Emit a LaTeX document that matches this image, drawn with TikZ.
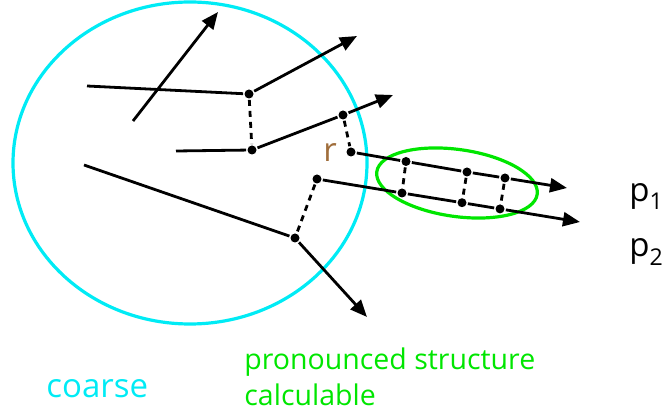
\documentclass[tikz,border=0pt]{standalone}
\usepackage{amsmath}
\usepackage{fontspec}
\setmainfont{Open Sans}
\usepackage{tikz}
\usetikzlibrary{arrows.meta,positioning}
\definecolor{coarsecyan}{RGB}{0,235,245}
\definecolor{structgreen}{RGB}{0,230,0}
\definecolor{rbrown}{RGB}{160,110,60}

\begin{document}
\begin{tikzpicture}[x=1pt,y=-1pt,
		line width=2.8pt,
		>={Triangle[length=17pt,width=14pt]},
		dotnode/.style={circle,fill=black,inner sep=0pt,minimum size=9pt},
		endnode/.style={coordinate},
		dashline/.style={dash pattern=on 6pt off 5pt},
		biglabel/.style={inner sep=0pt,anchor=base west,font=\fontsize{33}{36}\selectfont},
		smalllabel/.style={inner sep=0pt,anchor=base west,font=\fontsize{28.5}{34}\selectfont}]
		
		\useasboundingbox (0,0) rectangle (662,419);
		
		% the two regions
		\draw[coarsecyan,line width=3.2pt] (190,163) ellipse (177 and 161);
		\draw[structgreen,line width=3.2pt,rotate around={-8:(457,183)}] (457,183) ellipse (81 and 33.5);
		
		% free ends
		\node[endnode] (a0) at (133,121) {};
		\node[endnode] (a1) at (218,12) {};
		\node[endnode] (b0) at (87,86) {};
		\node[endnode] (btip) at (357,36) {};
		\node[endnode] (c0) at (176,151) {};
		\node[endnode] (ctip) at (393,95) {};
		\node[endnode] (d0) at (84,165) {};
		\node[endnode] (dtip) at (367,317) {};
		\node[endnode] (p1tip) at (567,188) {};
		\node[endnode] (p2tip) at (580,222) {};
		
		% points on the paths
		\node[dotnode] (bdot) at (249,94) {};
		\node[dotnode] (cdot) at (252,150) {};
		\node[dotnode] (cdot') at (343,115) {};
		\node[dotnode] (rdot) at (351,152) {};
		\node[dotnode] (q1) at (406,161.5) {};
		\node[dotnode] (q2) at (467,172) {};
		\node[dotnode] (q3) at (505,178) {};
		\node[dotnode] (sdot) at (317,179) {};
		\node[dotnode] (s1) at (402,193) {};
		\node[dotnode] (s2) at (462,202.7) {};
		\node[dotnode] (s3) at (500,208.9) {};
		\node[dotnode] (ddot) at (295,238) {};
		
		\draw[->] (a0) to (a1);
		
		\draw[solid] (b0) to (bdot);
		\draw[->] (bdot) to (btip);
		\draw[dashline] (bdot) to (cdot);
		
		\draw[solid] (c0) to (cdot);
		\draw[solid] (cdot) to (cdot');
		\draw[->] (cdot') to (ctip);
		\draw[dashline] (cdot') to (rdot);
		
		\draw[solid] (rdot) to (q1);
		\draw[solid] (q1) to (q2);
		\draw[solid] (q2) to (q3);
		\draw[->] (q3) to (p1tip);
		
		\draw[solid] (sdot) to (s1);
		\draw[solid] (s1) to (s2);
		\draw[solid] (s2) to (s3);
		\draw[->] (s3) to (p2tip);
		
		\draw[dashline] (q1) to (s1);
		\draw[dashline] (q2) to (s2);
		\draw[dashline] (q3) to (s3);
		\draw[dashline] (sdot) to (ddot);
		
		\draw[solid] (d0) to (ddot);
		\draw[->] (ddot) to (dtip);
		
		% labels
		\node[biglabel,text=rbrown] (r) at (322,162) {r};
		\node[biglabel] (p1) at (628,202) {p$_{\text{1}}$};
		\node[biglabel] (p2) at (628,257) {p$_{\text{2}}$};
		\node[biglabel,text=coarsecyan] (coarse) at (45,398) {coarse};
		\node[smalllabel,text=structgreen] (struct) at (243,370) {pronounced structure};
		\node[smalllabel,text=structgreen] (calc) at (243,406) {calculable};
		
	\end{tikzpicture}
\end{document}
